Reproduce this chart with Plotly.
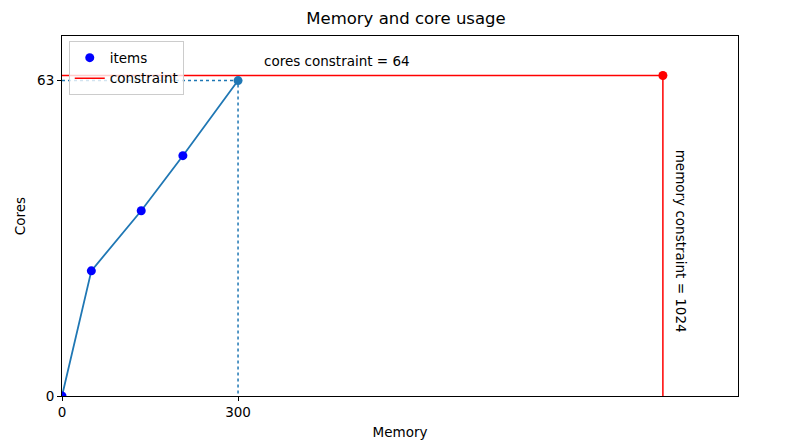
import plotly.graph_objects as go

# data
item_memory = [0, 50, 135, 206]
item_cores = [0, 25, 37, 48]
last_memory = 300
last_cores = 63
memory_constraint = 1024
cores_constraint = 64
x_ticks = [0, 300]
y_ticks = [0, 63]

TAB_BLUE = "#1f77b4"
FONT = "DejaVu Sans"

fig = go.Figure()

path_x = item_memory + [last_memory]
path_y = item_cores + [last_cores]

# dotted guides to last point
fig.add_trace(go.Scatter(x=[0, last_memory, last_memory], y=[last_cores, last_cores, 0],
                         mode="lines", line=dict(color=TAB_BLUE, width=1.5, dash="dot"),
                         showlegend=False, hoverinfo="skip", cliponaxis=False))
# usage line
fig.add_trace(go.Scatter(x=path_x, y=path_y, mode="lines",
                         line=dict(color=TAB_BLUE, width=1.8), showlegend=False))
# constraint lines
fig.add_trace(go.Scatter(x=[0, memory_constraint, memory_constraint],
                         y=[cores_constraint, cores_constraint, 0],
                         mode="lines", line=dict(color="red", width=1.5),
                         name="constraint", showlegend=True))
fig.add_trace(go.Scatter(x=[memory_constraint], y=[cores_constraint], mode="markers",
                         marker=dict(color="red", size=9), showlegend=False))
# item points
fig.add_trace(go.Scatter(x=item_memory, y=item_cores, mode="markers",
                         marker=dict(color="blue", size=9), name="items",
                         cliponaxis=True))
fig.add_trace(go.Scatter(x=[last_memory], y=[last_cores], mode="markers",
                         marker=dict(color=TAB_BLUE, size=9), showlegend=False))

fig.add_annotation(x=340, y=67, xref="x", yref="y", text="cores constraint = 64",
                   showarrow=False, xanchor="left", yanchor="middle",
                   font=dict(family=FONT, size=13.5, color="black"))
fig.add_annotation(x=1055, y=31, xref="x", yref="y", text="memory constraint = 1024",
                   showarrow=False, textangle=90, xanchor="center", yanchor="middle",
                   font=dict(family=FONT, size=13.5, color="black"))

axis_common = dict(showgrid=False, zeroline=False, showline=True, linecolor="black",
                   linewidth=1, mirror=True, ticks="outside", ticklen=4, tickcolor="black",
                   tickfont=dict(family=FONT, size=13.5, color="black"))

fig.update_layout(
    width=796, height=448,
    margin=dict(l=54, r=66, t=28, b=60),
    paper_bgcolor="white", plot_bgcolor="white",
    title=dict(text="Memory and core usage", x=0.5, xanchor="center", y=0.978, yanchor="middle",
               font=dict(family=FONT, size=16.5, color="black")),
    xaxis=dict(range=[0, 1152], tickvals=x_ticks, ticktext=[str(v) for v in x_ticks],
               title=dict(text="Memory", font=dict(family=FONT, size=13.5, color="black"), standoff=8),
               **axis_common),
    yaxis=dict(range=[0, 71.9], tickvals=y_ticks, ticktext=[str(v) for v in y_ticks],
               title=dict(text="Cores", font=dict(family=FONT, size=13.5, color="black"), standoff=8),
               **axis_common),
    legend=dict(x=0.01, y=0.985, xanchor="left", yanchor="top", bgcolor="rgba(255,255,255,0.8)",
                bordercolor="#cccccc", borderwidth=1, traceorder="reversed",
                font=dict(family=FONT, size=13.5, color="black")),
    showlegend=True,
)

fig.write_html("out.html")
